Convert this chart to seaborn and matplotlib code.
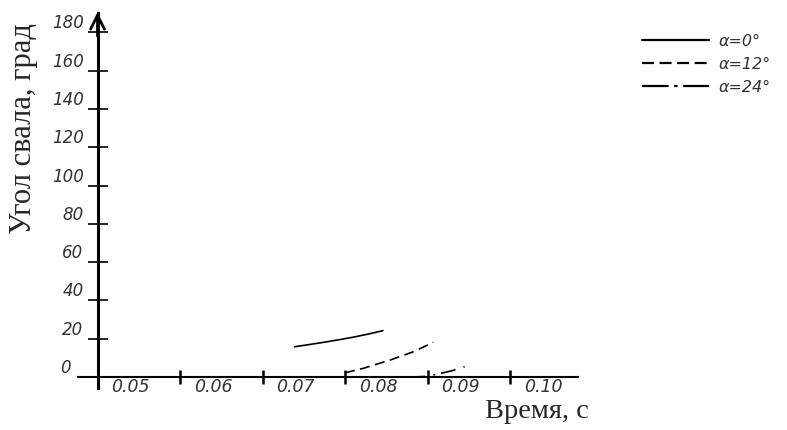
import numpy as np
import pandas as pd
import seaborn as sns
import matplotlib.pyplot as plt
import matplotlib.transforms as mtransforms

# values
t_0 = [0.0739, 0.0756, 0.0774, 0.0792, 0.0810, 0.0828, 0.0846]
ang_0 = [15.8, 16.9, 18.1, 19.4, 20.8, 22.4, 24.2]

t_12 = [0.0800, 0.0822, 0.0855, 0.0883, 0.0907]
ang_12 = [2.2, 4.5, 8.9, 13.2, 18.1]

t_24 = [0.0879, 0.0899, 0.0915, 0.0930, 0.0945]
ang_24 = [0.0, 0.3, 1.8, 3.3, 5.4]

labels = ['α=0°', 'α=12°', 'α=24°']
xticks = [0.05, 0.06, 0.07, 0.08, 0.09, 0.10]
yticks = [0, 20, 40, 60, 80, 100, 120, 140, 160, 180]

df = pd.concat([
    pd.DataFrame({'t': t_0, 'angle': ang_0, 'alpha': labels[0]}),
    pd.DataFrame({'t': t_12, 'angle': ang_12, 'alpha': labels[1]}),
    pd.DataFrame({'t': t_24, 'angle': ang_24, 'alpha': labels[2]}),
])

sns.set_style('white')
plt.rcParams['font.family'] = ['DejaVu Sans']

fig = plt.figure(figsize=(7.87, 4.30), dpi=100)
ax = fig.add_axes([0, 0, 1, 1])

styles = {labels[0]: '', labels[1]: (6, 3.3), labels[2]: (9, 5, 1.2, 3.5)}
sns.lineplot(data=df, x='t', y='angle', style='alpha', dashes=styles,
             color='black', linewidth=1.2, ax=ax, legend=False, sort=False)

# pixel mapping of the reference: 0.05 at x=97.5px, 82.5px per 0.01; 0 at y=377px, 1.915px per unit
ax.set_xlim(0.05 - 97.5 / 8250, 0.05 + (787 - 97.5) / 8250)
ax.set_ylim(-(430 - 377) / 1.915, 377 / 1.915)

for s in ['top', 'right']:
    ax.spines[s].set_visible(False)
ax.spines['left'].set_position(('data', 0.05))
ax.spines['bottom'].set_position(('data', 0))
ax.spines['left'].set_bounds(-6, 190)
ax.spines['bottom'].set_bounds(0.05 - 20 / 8250, 0.05 + (578 - 97.5) / 8250)
ax.spines['left'].set_linewidth(2.2)
ax.spines['bottom'].set_linewidth(1.5)
ax.spines['left'].set_color('black')
ax.spines['bottom'].set_color('black')

ax.annotate('', xy=(0.05, 190.5), xytext=(0.05, 178),
            arrowprops=dict(arrowstyle='->, head_length=1.0, head_width=0.5',
                            lw=2, color='black', shrinkA=0, shrinkB=0))

ax.set_xticks(xticks)
ax.set_xticklabels(['0.05', '0.06', '0.07', '0.08', '0.09', '0.10'])
ax.set_yticks(yticks)
ax.set_yticklabels([str(v) for v in yticks])
ax.tick_params(axis='y', left=True, direction='inout', length=14.5, width=1.2, pad=2,
               labelsize=12, colors='black')
ax.tick_params(axis='x', bottom=True, direction='inout', length=10, width=1.8, pad=0,
               labelsize=12.5, colors='black')

for lab in ax.get_yticklabels():
    lab.set_fontstyle('italic')
    lab.set_color('#333333')
    dx = -1 if lab.get_text() != '0' else -14
    lab.set_transform(lab.get_transform() + mtransforms.Affine2D().translate(dx, 11))
for lab in ax.get_xticklabels():
    lab.set_fontstyle('italic')
    lab.set_color('#333333')
    lab.set_horizontalalignment('left')
    lab.set_verticalalignment('center')
    lab.set_transform(lab.get_transform() + mtransforms.Affine2D().translate(14, -3))

ax.set_xlabel('')
ax.set_ylabel('')
fig.text(24 / 787, 1 - 128 / 430, 'Угол свала, град', rotation=90, ha='center', va='center',
         fontsize=22, family='Liberation Serif')
fig.text(537 / 787, 1 - 412 / 430, 'Время, с', ha='center', va='center',
         fontsize=20.5, family='Liberation Serif')

handles = [plt.Line2D([], [], color='black', lw=1.6),
           plt.Line2D([], [], color='black', lw=1.6, dashes=(5.4, 2.5)),
           plt.Line2D([], [], color='black', lw=1.6, dashes=(12, 2.5, 1.5, 2.5))]
leg = ax.legend(handles, labels, loc='upper left', bbox_to_anchor=(642 / 787, 1 - 34 / 430),
                frameon=False, handlelength=4.2, handletextpad=0.6, labelspacing=0.5,
                borderaxespad=0, borderpad=0,
                prop={'size': 11.5, 'style': 'italic'})
for txt in leg.get_texts():
    txt.set_color('#333333')

fig.savefig('out.png', dpi=100)
